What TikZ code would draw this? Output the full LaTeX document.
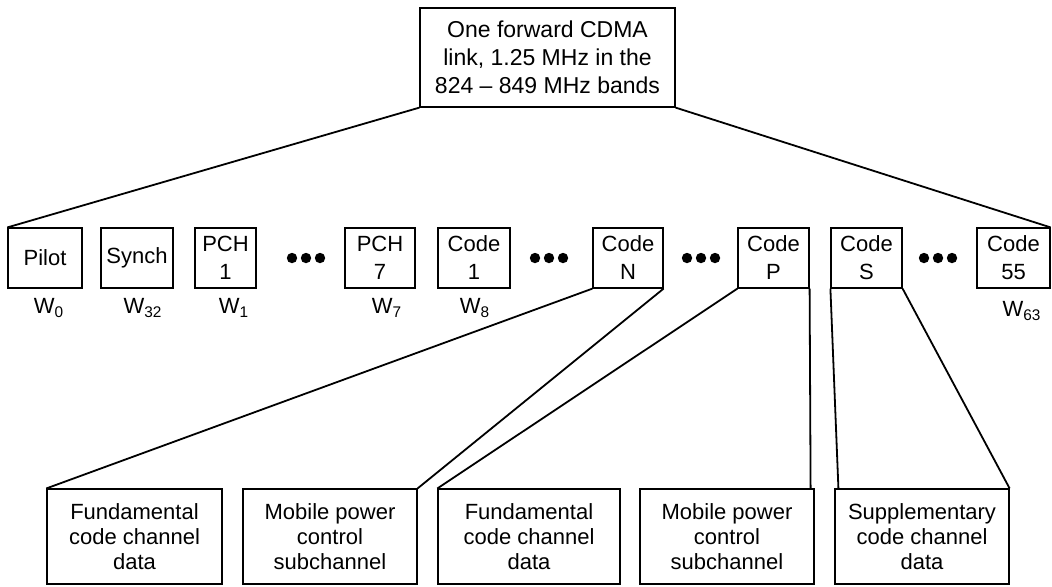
\documentclass[tikz,border=0pt]{standalone}
\usepackage{fontspec}
\setmainfont{Liberation Sans}
\usepackage{tikz}
\usetikzlibrary{positioning}

\begin{document}
\begin{tikzpicture}[
    x=0.5pt,y=-0.5pt,
    box/.style={draw=black,line width=0.6pt,inner sep=0pt,align=center,font=\fontsize{11}{14}\selectfont},
    cell/.style={box,minimum height=30pt},
    leaf/.style={box,minimum height=47.5pt,font=\fontsize{11}{12.6}\selectfont},
    wlab/.style={inner sep=0pt,font=\fontsize{11}{12}\selectfont},
    link/.style={line width=0.9pt,draw=black}
  ]
    \useasboundingbox (0,0) rectangle (1052,586);
    % top link
    \node[box,minimum width=127.5pt,minimum height=49.5pt,font=\fontsize{11.5}{14}\selectfont] (fwd) at (547.5,57.5) {One forward CDMA\\link, 1.25 MHz in the\\824 -- 849 MHz bands};
    % code channels
    \node[cell,minimum width=37pt] (pilot) at (45,258) {Pilot};
    \node[cell,minimum width=36pt] (synch) at (137,258) {Synch};
    \node[cell,minimum width=30.5pt] (pch1) at (225.5,258) {PCH\\1};
    \node[cell,minimum width=35pt] (pch7) at (380,258) {PCH\\7};
    \node[cell,minimum width=36pt] (code1) at (474,258) {Code\\1};
    \node[cell,minimum width=35pt] (codeN) at (628,258) {Code\\N};
    \node[cell,minimum width=35.5pt] (codeP) at (773.5,258) {Code\\P};
    \node[cell,minimum width=35.5pt] (codeS) at (866.5,258) {Code\\S};
    \node[cell,minimum width=36.5pt] (code55) at (1013.5,258) {Code\\55};
    \foreach \cx in {306,549,701,938}
      \foreach \dx in {-14,0,14}
        \fill (\cx+\dx,258) circle (2.6pt);
    % Walsh labels
    \node[wlab] (w0) at (49,308) {W\textsubscript{0}};
    \node[wlab] (w32) at (143,308) {W\textsubscript{32}};
    \node[wlab] (w1) at (234,308) {W\textsubscript{1}};
    \node[wlab] (w7) at (387,308) {W\textsubscript{7}};
    \node[wlab] (w8) at (475,308) {W\textsubscript{8}};
    \node[wlab] (w63) at (1022,311) {W\textsubscript{63}};
    % subchannels
    \node[leaf,minimum width=87.5pt] (fundN) at (134.5,536.5) {Fundamental\\code channel\\data};
    \node[leaf,minimum width=87pt] (mpcN) at (330,536.5) {Mobile power\\control\\subchannel};
    \node[leaf,minimum width=91pt] (fundP) at (529,536.5) {Fundamental\\code channel\\data};
    \node[leaf,minimum width=87pt] (mpcP) at (727,536.5) {Mobile power\\control\\subchannel};
    \node[leaf,minimum width=87pt] (suppS) at (922,536.5) {Supplementary\\code channel\\data};
    % fan lines
    \draw[link] (fwd.south west) -- (pilot.north west);
    \draw[link] (fwd.south east) -- (code55.north east);
    \draw[link] (codeN.south west) -- (fundN.north west);
    \draw[link] (codeN.south east) -- (mpcN.north east);
    \draw[link] (codeP.south west) -- (fundP.north west);
    \draw[link] (codeP.south east) -- ([xshift=-2pt]mpcP.north east);
    \draw[link] (codeS.south west) -- ([xshift=2pt]suppS.north west);
    \draw[link] (codeS.south east) -- (suppS.north east);
  \end{tikzpicture}
\end{document}
